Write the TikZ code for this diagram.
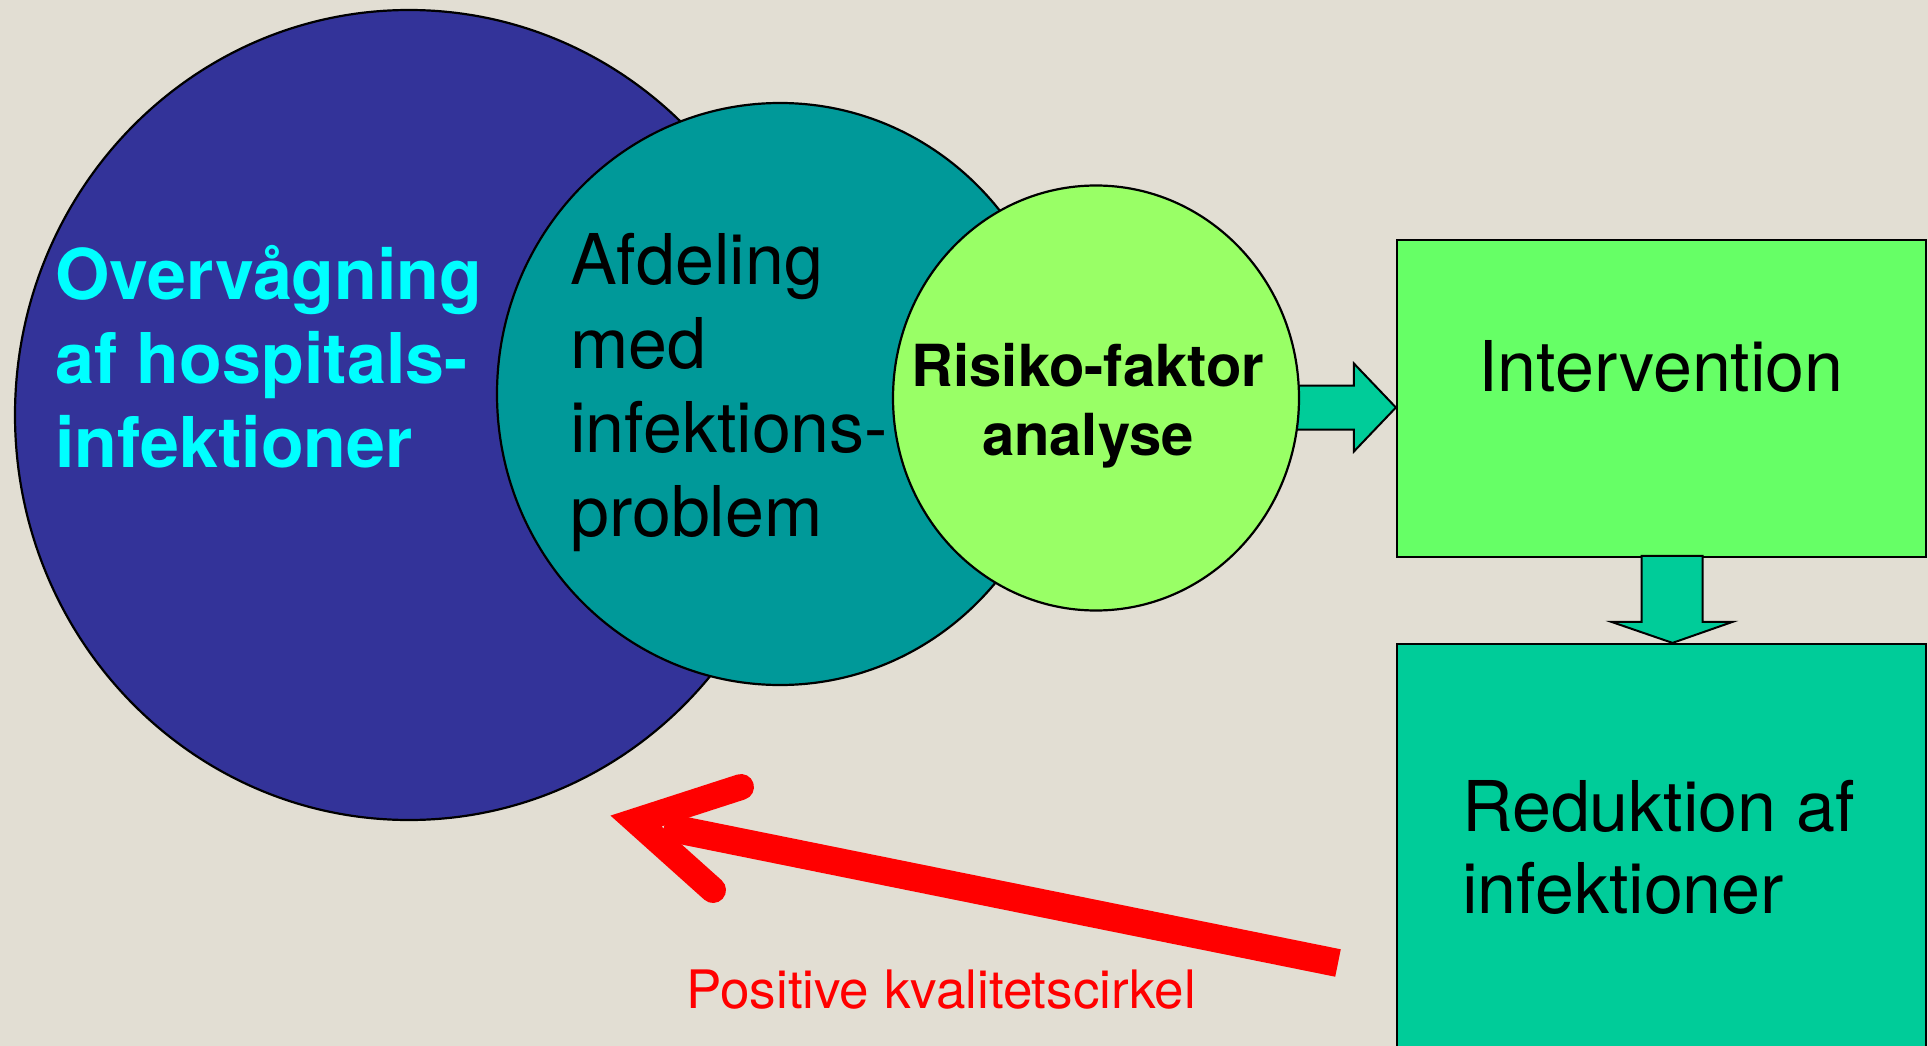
\documentclass[tikz,border=0pt]{standalone}
\usepackage{fontspec}
\setmainfont{TeX Gyre Heros}
\usepackage{tikz}
\usetikzlibrary{shapes.geometric}
\usetikzlibrary{calc}
\usepackage{xcolor}
\definecolor{bgsand}{HTML}{E2DED3}
\definecolor{ovvblue}{HTML}{333399}
\definecolor{afdteal}{HTML}{009999}
\definecolor{risklime}{HTML}{99FF66}
\definecolor{intgreen}{HTML}{66FF66}
\definecolor{redgreen}{HTML}{00CC99}
\definecolor{ovvcyan}{HTML}{00FFFF}

\begin{document}
\begin{tikzpicture}[x=1pt,y=-1pt,
		circ/.style={ellipse,draw=black,line width=2.2pt,inner sep=0pt},
		box/.style={rectangle,draw=black,line width=2.2pt,inner sep=0pt},
		blockarrow/.style={draw=black,line width=2pt,fill=redgreen,line join=miter},
		bigtext/.style={font=\fontsize{70}{84}\selectfont,align=left,inner sep=0pt},
		boldtext/.style={font=\bfseries\fontsize{70}{84}\selectfont,align=left,inner sep=0pt}]
	\useasboundingbox (0,0) rectangle (1928,1046);
	\clip (0,0) rectangle (1928,1046);
	\fill[bgsand] (0,0) rectangle (1928,1046);

	\node[box,fill=intgreen,minimum width=529,minimum height=317] (interv) at (1661.5,398.5) {};
	\node[box,fill=redgreen,minimum width=529,minimum height=456] (reduk) at (1661.5,872) {};

	\coordinate (da) at ($(reduk.north)+(11,0)$);
	\draw[blockarrow] (da) -- ++(-61,-21) -- ++(30,0) -- ++(0,-66) -- ++(61,0) -- ++(0,66) -- ++(30,0) -- cycle;
	\coordinate (ra) at ($(interv.west)+(0,9)$);
	\draw[blockarrow] (ra) -- ++(-42,-44) -- ++(0,22) -- ++(-70,0) -- ++(0,44) -- ++(70,0) -- ++(0,22) -- cycle;

	\node[circ,fill=ovvblue,minimum width=788,minimum height=810] (ovv) at (409,415) {};
	\node[circ,fill=afdteal,minimum width=566,minimum height=582] (afd) at (780,394) {};
	\node[circ,fill=risklime,minimum width=406,minimum height=425] (risk) at (1096,398) {};

	\node[boldtext,text=ovvcyan,anchor=base west] (ovvtxt) at (55,467) {Overvågning\\af hospitals-\\infektioner};
	\node[bigtext,anchor=base west] (afdtxt) at (570,536) {Afdeling\\med\\infektions-\\problem};
	\node[font=\bfseries\fontsize{58}{69}\selectfont,align=center,inner sep=0pt,anchor=base] (risktxt) at (1088,455) {Risiko-faktor\\analyse};
	\node[bigtext,anchor=base] (intervtxt) at (1661,391) {Intervention};
	\node[font=\fontsize{70}{82}\selectfont,align=left,inner sep=0pt,anchor=base west] (reduktxt) at (1462,913) {Reduktion af\\infektioner};

	\coordinate (fbtail) at (1338,963);
	\coordinate (fbhead) at (636,821);
	\draw[red,line width=28pt] (fbtail) -- ($(fbtail)!0.96!(fbhead)$);
	\draw[red,line width=26pt,line cap=round,line join=miter] ($(fbhead)+(105,-34)$) -- (fbhead) -- ($(fbhead)+(77,69)$);
	\node[text=red,font=\fontsize{53}{64}\selectfont,inner sep=0pt,anchor=base west] (kvaltxt) at (686,1008) {Positive kvalitetscirkel};
\end{tikzpicture}
\end{document}
